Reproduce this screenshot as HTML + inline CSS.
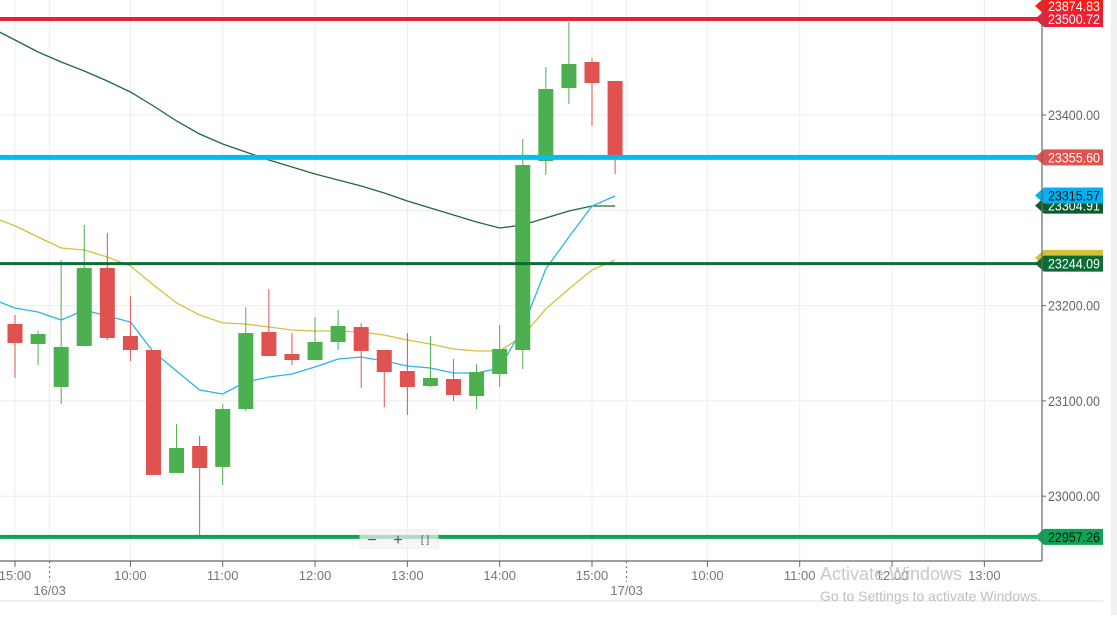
<!DOCTYPE html>
<html><head><meta charset="utf-8">
<style>
body{margin:0;width:1117px;height:615px;overflow:hidden;background:#fff;font-family:"Liberation Sans",sans-serif;}
svg text{font-family:"Liberation Sans",sans-serif;}
</style></head>
<body>
<svg id="chart" width="1117" height="615" xmlns="http://www.w3.org/2000/svg">
<rect x="1111" y="0" width="6" height="615" fill="#f0f0f0"/>
<g id="grid"></g>
<g id="ma"></g>
<g id="candles"></g>
<g id="levels"></g>
<g id="axes"></g>
<g>
<rect x="360" y="530" width="78" height="18" fill="#f5f5f5" opacity="0.7" stroke="#e6e6e6"/>
<text x="372" y="545" font-size="16" fill="#555" text-anchor="middle">−</text>
<text x="398" y="545" font-size="16" fill="#555" text-anchor="middle">+</text>
<text x="425" y="543" font-size="10" fill="#555" text-anchor="middle">[ ]</text>
</g>
<text x="820" y="580" font-size="18" fill="#c8c8c8">Activate Windows</text>
<text x="820" y="601" font-size="14" fill="#c0c0c0">Go to Settings to activate Windows.</text>
</svg>
<script>
const opens=[23180.7,23159.7,23114.6,23157.6,23239.5,23168.1,23153.4,23024.4,23052.7,23030.7,23091.5,23172.3,23149.2,23142.9,23161.8,23177.5,23153.4,23131.4,23115.6,23123.0,23105.1,23128.2,23153.4,23351.7,23428.3,23455.6,23435.7];
const highs=[23190.1,23173.4,23247.9,23284.6,23276.2,23210.1,23153.4,23075.8,23063.2,23096.7,23198.5,23217.4,23171.2,23188.0,23195.4,23181.7,23153.4,23171.2,23168.1,23143.9,23138.7,23179.6,23374.8,23450.4,23497.6,23459.8,23435.7];
const lows=[23124.0,23137.7,23096.7,23157.6,23163.9,23141.9,23022.3,23024.4,22956.1,23011.8,23089.4,23147.1,23137.7,23142.9,23153.4,23113.5,23093.6,23085.2,23114.6,23099.9,23091.5,23114.6,23133.5,23337.0,23411.5,23388.5,23338.1];
const closes=[23160.8,23170.2,23156.6,23239.5,23166.0,23153.4,23022.3,23050.6,23029.6,23091.5,23171.2,23147.1,23142.9,23161.8,23178.6,23152.4,23130.3,23114.6,23124.0,23106.2,23130.3,23154.5,23347.5,23427.3,23453.5,23433.6,23358.0];
// moving averages start one bar before first candle
const maFast=[23206.9,23197.5,23193.3,23184.9,23195.4,23189.1,23182.8,23151.3,23131.4,23111.4,23107.2,23119.8,23125.1,23128.2,23135.6,23144.0,23146.1,23141.9,23136.6,23134.5,23129.3,23129.3,23134.5,23176.5,23238.4,23272.0,23304.5,23315.0];
const maMid=[23293.0,23283.6,23272.0,23260.4,23258.3,23251.0,23241.6,23221.6,23202.7,23190.1,23181.8,23180.7,23177.5,23174.4,23173.3,23173.3,23172.3,23169.1,23163.9,23159.7,23154.5,23152.4,23152.4,23168.1,23196.5,23217.4,23237.4,23247.9];
const maSlow=[23491.3,23478.7,23466.1,23455.6,23446.2,23435.7,23424.1,23409.4,23393.7,23380.1,23369.6,23361.2,23352.8,23345.4,23338.1,23331.8,23325.5,23318.2,23309.8,23302.4,23295.1,23287.7,23281.4,23284.6,23291.9,23299.3,23304.5,23304.5];
const yTicks=[23400,23300,23200,23100,23000];
const yTickLabels=["23400.00","","23200.00","23100.00","23000.00"];
const levelValues=[23500.72,23355.60,23244.09,22957.26];
const levelLabels=["23500.72","23355.60","23244.09","22957.26"];
const tagValues=[23315.57,23304.91];
const tagLabels=["23315.57","23304.91"];
const xTickLabels=["15:00","10:00","11:00","12:00","13:00","14:00","15:00","10:00","11:00","12:00","13:00"];
const xTickSlots=[0,5,9,13,17,21,25,30,34,38,42];
const dateLabels=["16/03","17/03"];
const dateSlots=[1.5,26.5];

const NS="http://www.w3.org/2000/svg";
const y=v=>115+(23400-v)*0.953;
const x=i=>15+i*23.08;
function mk(p,tag,a){const e=document.createElementNS(NS,tag);for(const k in a)e.setAttribute(k,a[k]);p.appendChild(e);return e;}
const grid=document.getElementById('grid'),axes=document.getElementById('axes'),cg=document.getElementById('candles'),mg=document.getElementById('ma'),lg=document.getElementById('levels');
yTicks.forEach((t,i)=>{
 const l=mk(grid,'line',{x1:0,x2:1042,y1:y(t),y2:y(t),stroke:'#ececec'});
 
 
 if(yTickLabels[i]){
 const tx=mk(axes,'text',{x:1048,y:y(t)+5,'font-size':14,fill:'#666',textLength:52,lengthAdjust:'spacingAndGlyphs'});tx.textContent=yTickLabels[i];
 
 }
 mk(axes,'line',{x1:1042,x2:1046,y1:y(t),y2:y(t),stroke:'#666'});
});
xTickSlots.forEach((s,i)=>{
 const gx=x(s);
 const l=mk(grid,'line',{x1:gx,x2:gx,y1:0,y2:561,stroke:'#ececec'});
 
 
 mk(axes,'line',{x1:gx,x2:gx,y1:561,y2:567,stroke:'#666'});
 const tx=mk(axes,'text',{x:gx,y:580,'font-size':13,fill:'#777','text-anchor':'middle'});tx.textContent=xTickLabels[i];
 
 
});
dateSlots.forEach((s,i)=>{
 const gx=x(s);
 mk(grid,'line',{x1:gx,x2:gx,y1:0,y2:561,stroke:'#ececec'});
 mk(axes,'line',{x1:gx,x2:gx,y1:561,y2:582,stroke:'#666','stroke-dasharray':'2,3'});
 const tx=mk(axes,'text',{x:gx,y:595,'font-size':13,fill:'#777','text-anchor':'middle'});tx.textContent=dateLabels[i];
 
 
});
mk(axes,'line',{x1:0,x2:1042,y1:561,y2:561,stroke:'#666','stroke-width':1.2});
mk(axes,'line',{x1:1042,x2:1042,y1:0,y2:561,stroke:'#666','stroke-width':1.2});
mk(axes,'line',{x1:0,x2:1103,y1:601,y2:601,stroke:'#e2e2e2'});
[[maSlow,'#1f6b3a','ma-slow-line'],[maMid,'#d4c23a','ma-mid-line'],[maFast,'#29b6e8','ma-fast-line']].forEach(([arr,c,n])=>{
 const pts=arr.map((v,i)=>x(i-1).toFixed(1)+','+y(v).toFixed(1)).join(' ');
 const pl=mk(mg,'polyline',{points:pts,fill:'none',stroke:c,'stroke-width':1.3});
 
 
});
opens.forEach((o,i)=>{
 const c=closes[i],up=c>=o,col=up?'#4caf50':'#e0524f',cx=x(i);
 const w=mk(cg,'line',{x1:cx,x2:cx,y1:y(highs[i]),y2:y(lows[i]),stroke:col,'stroke-width':1});
 
 
 const top=y(Math.max(o,c)),h=Math.max(1.5,Math.abs(y(o)-y(c)));
 const r=mk(cg,'rect',{x:cx-7.5,y:top,width:15,height:h,fill:col});
 
 
});
const lvCols=['#ea2035','#00bef0','#0d6b36','#0ea356'],lvW=[4,5,3,4],tagBg=['#ea2035','#e0524f','#0d6b36','#0ea356'],tagFg=['#fff','#fff','#fff','#111'];
function tag(v,label,bg,fg,name,yy){
 const ty=yy!==undefined?yy:y(v);
 const p=mk(lg,'path',{d:`M1035 ${ty} L1044 ${ty-8} L1103 ${ty-8} L1103 ${ty+8} L1044 ${ty+8} Z`,fill:bg});
 
 
 const t=mk(lg,'text',{x:1048,y:ty+5,'font-size':14,fill:fg,textLength:52,lengthAdjust:'spacingAndGlyphs'});t.textContent=label;
 
 
}
levelValues.forEach((v,i)=>{
 const l=mk(lg,'line',{x1:0,x2:1040,y1:y(v),y2:y(v),stroke:lvCols[i],'stroke-width':lvW[i]});
 
 
});
tag(0,'23874.83','#ff1a1a','#fff','offscreen-level',6);
tag(23244.09+6,' ','#d4c23a','#fff','ma-mid');
tag(tagValues[1],tagLabels[1],'#0d5a2c','#fff','ma-slow');
tag(tagValues[0],tagLabels[0],'#00b0f0','#111','ma-fast');
levelValues.forEach((v,i)=>tag(v,levelLabels[i],tagBg[i],tagFg[i],'level'));
</script>
</body></html>
